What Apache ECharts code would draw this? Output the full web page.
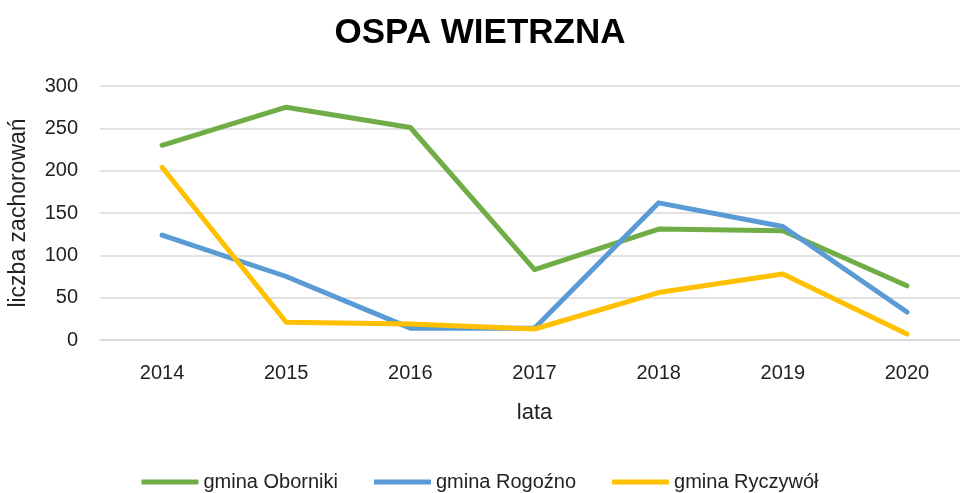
<!DOCTYPE html>
<html>
<head>
<meta charset="utf-8">
<script src="https://cdn.jsdelivr.net/npm/echarts@6/dist/echarts.min.js"></script>
<style>
  html, body { margin: 0; padding: 0; background: #fff; }
  #chart { width: 960px; height: 493px; }
</style>
</head>
<body>
<div id="chart"></div>
<script>
const years = ['2014', '2015', '2016', '2017', '2018', '2019', '2020']
const oborniki = [230, 275, 251, 83, 131, 129, 64]
const rogozno = [124, 75, 14, 14, 162, 134, 33]
const ryczywol = [204, 21, 19, 13, 56, 78, 7]
const yTicks = [0, 50, 100, 150, 200, 250, 300]

const FONT = '"Liberation Sans", "DejaVu Sans", sans-serif'
const chart = echarts.init(document.getElementById('chart'), undefined, { renderer: 'canvas' })

function lineSeries(name, data, color) {
  return {
    type: 'line',
    name,
    data,
    symbol: 'none',
    lineStyle: { color, width: 5, cap: 'round', join: 'round' },
    itemStyle: { color },
  }
}

chart.setOption({
  animation: false,
  title: {
    text: 'OSPA WIETRZNA',
    left: 'center',
    top: 11,
    textStyle: { fontFamily: FONT, fontSize: 35, fontWeight: 'bold', color: '#000' },
  },
  legend: {
    bottom: -4,
    left: 'center',
    itemWidth: 57,
    itemHeight: 5,
    itemGap: 36,
    icon: 'rect',
    textStyle: { fontFamily: FONT, fontSize: 20, color: '#222' },
    data: ['gmina Oborniki', 'gmina Rogoźno', 'gmina Ryczywół'],
  },
  grid: { left: 100, top: 86, width: 869, height: 254, outerBoundsMode: 'none' },
  xAxis: {
    type: 'category',
    data: years,
    boundaryGap: true,
    name: 'lata',
    nameLocation: 'middle',
    nameGap: 62,
    nameTextStyle: { fontFamily: FONT, fontSize: 22, color: '#222' },
    axisLine: { lineStyle: { color: '#d9d9d9', width: 1.5 } },
    axisTick: { show: false },
    axisLabel: { fontFamily: FONT, fontSize: 20, color: '#222', margin: 23 },
  },
  yAxis: {
    type: 'value',
    min: yTicks[0],
    max: yTicks[yTicks.length - 1],
    interval: 50,
    name: 'liczba zachorowań',
    nameLocation: 'middle',
    nameGap: 70,
    nameTextStyle: { fontFamily: FONT, fontSize: 23, color: '#222' },
    axisLine: { show: false },
    axisTick: { show: false },
    axisLabel: { fontFamily: FONT, fontSize: 20, color: '#222', margin: 22 },
    splitLine: { lineStyle: { color: '#d9d9d9', width: 1.5 } },
  },
  series: [
    lineSeries('gmina Oborniki', oborniki, '#70AD47'),
    lineSeries('gmina Rogoźno', rogozno, '#5B9BD5'),
    lineSeries('gmina Ryczywół', ryczywol, '#FFC000'),
  ],
})
</script>
</body>
</html>
